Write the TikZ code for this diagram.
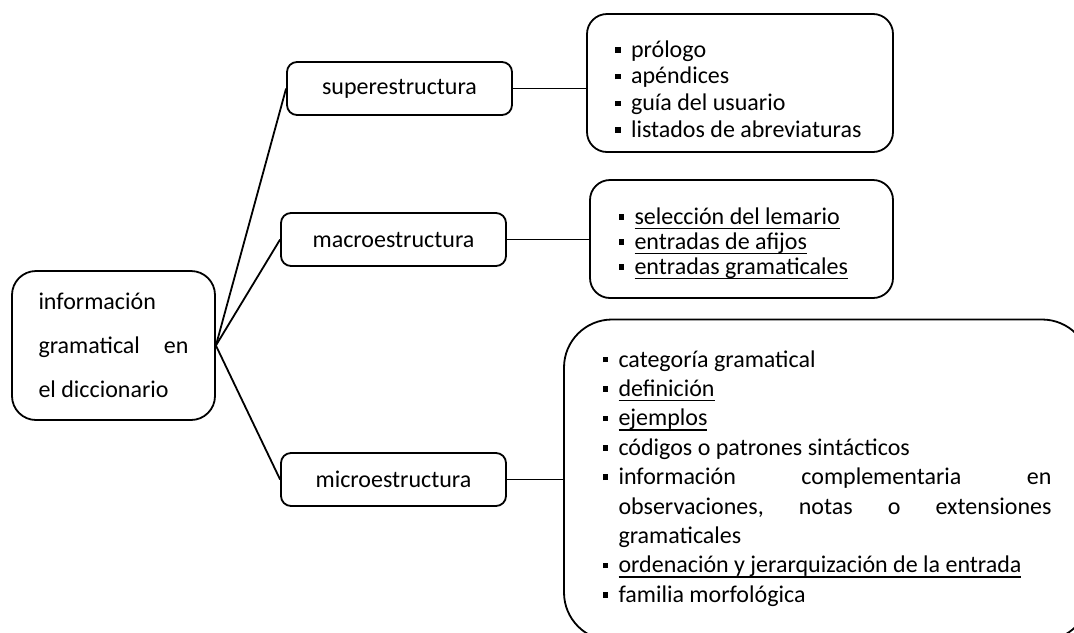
\documentclass[tikz,border=0pt]{standalone}
\usepackage{fontspec}
\setmainfont{Carlito}
\usetikzlibrary{positioning}
\newcommand{\sq}{\makebox[8pt][l]{\rule[2.3pt]{2.8pt}{2.8pt}}}
\newcommand{\sqitem}[1]{\par\spaceskip=0pt\xspaceskip=0pt\rightskip=0pt plus 1fil%
  \hangindent=8pt\hangafter=1\noindent\sq#1}
\newcommand{\undl}[1]{\setbox0\hbox{#1}\rlap{\smash{\rule[-2.4pt]{\wd0}{0.75pt}}}\box0}
\tikzset{
    base/.style={font=\fontsize{12}{14.3}\selectfont, draw=black, line width=0.9pt},
    topic/.style={base, rectangle, rounded corners=12pt, minimum width=101.5pt,
                  minimum height=74.5pt, inner sep=0pt, text width=75pt, align=left,
                  font=\fontsize{12}{22}\selectfont},
    branch/.style={base, rectangle, rounded corners=5pt, minimum width=112.5pt,
                   minimum height=26.5pt},
    listbox/.style={base, rectangle, rounded corners=10pt, align=left, inner sep=0pt},
    link/.style={line width=0.9pt, black}
}
\begin{document}
\begin{tikzpicture}[x=0.5pt, y=-0.5pt]
  \clip (0,0) rectangle (1074,632);
  % root
  \node[topic] (info) at (113.5,345.5)
    {\spaceskip=0pt información\\ gramatical\hfill en\\ el diccionario};

  % three levels
  \node[branch] (sup) at (399.5,88.5) {superestructura};
  \node[branch] (mac) at (393.5,239.5) {macroestructura};
  \node[branch] (mic) at (393.5,479.5) {microestructura};

  \draw[link] (info.east) -- (sup.west);
  \draw[link] (info.east) -- (mac.west);
  \draw[link] (info.east) -- (mic.west);

  % lists
  \node[listbox, minimum width=153pt, minimum height=69pt, text width=125pt,
        font=\fontsize{12}{13.4}\selectfont] (supl) at (740,83) {
    \vspace*{1pt}
    \sqitem{prólogo}
    \sqitem{apéndices}
    \sqitem{guía del usuario}
    \sqitem{listados de abreviaturas}
  };
  \node[listbox, minimum width=151.5pt, minimum height=59pt, text width=123pt,
        font=\fontsize{12}{12.5}\selectfont] (macl) at (741.5,239) {
    \sqitem{\undl{selección del lemario}}
    \sqitem{\undl{entradas de afijos}}
    \sqitem{\undl{entradas gramaticales}}
  };
  \node[listbox, rounded corners=24pt, minimum width=263pt, minimum height=160.5pt,
        text width=224.5pt, font=\fontsize{12}{14.7}\selectfont] (micl) at (827,480) {
    \sqitem{categoría gramatical}
    \sqitem{\undl{definición}}
    \sqitem{\undl{ejemplos}}
    \sqitem{códigos o patrones sintácticos}
    \sqitem{información\hfill complementaria\hfill en\break
            observaciones,\hfill notas\hfill o\hfill extensiones\break
            gramaticales}
    \sqitem{\undl{ordenación y jerarquización de la entrada}}
    \sqitem{familia morfológica}
    \par\nointerlineskip\noindent\rule{0pt}{8pt}\par
  };

  \draw[link] (sup.east) -- (sup.east -| supl.west);
  \draw[link] (mac.east) -- (mac.east -| macl.west);
  \draw[link] (mic.east) -- (mic.east -| micl.west);
\end{tikzpicture}
\end{document}
